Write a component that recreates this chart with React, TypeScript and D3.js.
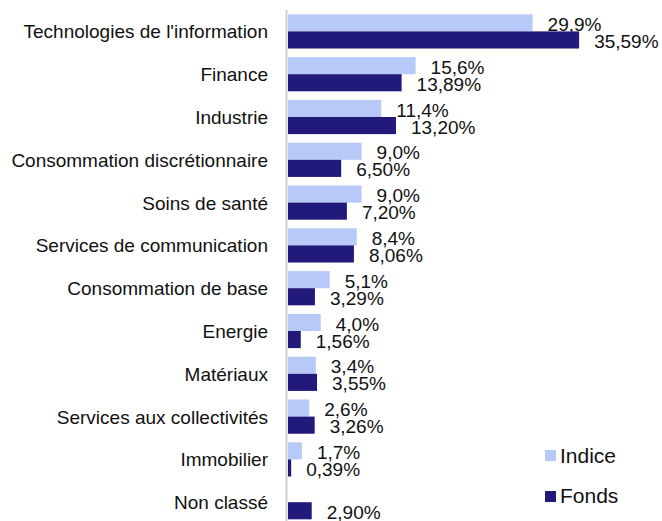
import React from "react";
import * as d3 from "d3";

const categories = [
  "Technologies de l'information",
  "Finance",
  "Industrie",
  "Consommation discrétionnaire",
  "Soins de santé",
  "Services de communication",
  "Consommation de base",
  "Energie",
  "Matériaux",
  "Services aux collectivités",
  "Immobilier",
  "Non classé",
];
const indiceValues: (number | null)[] = [29.9, 15.6, 11.4, 9.0, 9.0, 8.4, 5.1, 4.0, 3.4, 2.6, 1.7, null];
const fondsValues: (number | null)[] = [35.59, 13.89, 13.2, 6.5, 7.2, 8.06, 3.29, 1.56, 3.55, 3.26, 0.39, 2.9];
const seriesNames = ["Indice", "Fonds"];
const seriesDecimals = [1, 2];
const seriesColors = ["#b7c9f6", "#221a7a"];

const W = 662;
const H = 521;
const FONT = "'Liberation Sans', Arial, sans-serif";

export default function App() {
  const y = d3.scaleBand<string>().domain(categories).range([10, 523.6]).paddingInner(0.2).paddingOuter(0.1);
  const sub = d3.scaleBand<string>().domain(seriesNames).range([0, y.bandwidth()]);
  const x = d3.scaleLinear().domain([0, 40]).range([288, 288 + 40 * 8.18]);
  const seriesValues = [indiceValues, fondsValues];
  const fmt = (v: number, d: number) => v.toFixed(d).replace(".", ",") + "%";

  return (
    <svg width={W} height={H} style={{ position: "absolute", left: 0, top: 0, background: "#fff" }} fontFamily={FONT}>
      <rect x={0} y={0} width={W} height={H} fill="#fff" />
      {categories.map((c) => (
        <text key={c} x={268} y={(y(c) as number) + y.bandwidth() / 2 + 7} textAnchor="end" fontSize={19} fill="#111">
          {c}
        </text>
      ))}
      {seriesNames.map((s, si) =>
        categories.map((c, ci) => {
          const v = seriesValues[si][ci];
          if (v == null) return null;
          const top = (y(c) as number) + (sub(s) as number);
          const h = sub.bandwidth();
          return (
            <g key={s + c}>
              <rect x={x(0)} y={top} width={x(v) - x(0)} height={h} fill={seriesColors[si]} />
              <text x={x(v) + 15} y={top + h - 0.5} fontSize={19} fill="#111">
                {fmt(v, seriesDecimals[si])}
              </text>
            </g>
          );
        })
      )}
      <line x1={286.5} x2={286.5} y1={10} y2={H} stroke="#d0d0d0" strokeWidth={2} />
      {seriesNames.map((s, si) => (
        <g key={"lg" + s}>
          <rect x={545} y={450 + si * 41} width={11} height={11} fill={seriesColors[si]} />
          <text x={560} y={463 + si * 39.5} fontSize={21} fill="#111">
            {s}
          </text>
        </g>
      ))}
    </svg>
  );
}
